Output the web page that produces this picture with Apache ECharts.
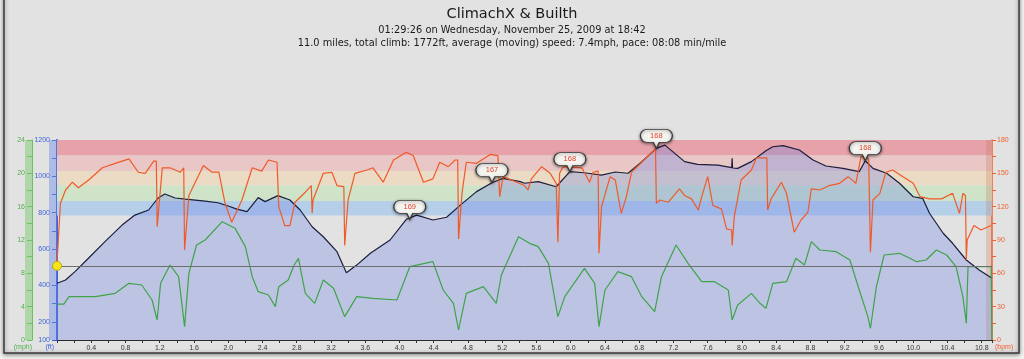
<!DOCTYPE html>
<html>
<head>
<meta charset="utf-8">
<script src="https://cdn.jsdelivr.net/npm/echarts@6/dist/echarts.min.js"></script>
<style>
html,body{margin:0;padding:0;background:#f2f2f2;}
#chart{width:1024px;height:359px;}
</style>
</head>
<body>
<div id="chart"></div>
<script>
// ---- data ----
const titleText = 'ClimachX & Builth';
const subLine1 = '01:29:26 on Wednesday, November 25, 2009 at 18:42';
const subLine2 = '11.0 miles, total climb: 1772ft, average (moving) speed: 7.4mph, pace: 08:08 min/mile';

const elevMiles = [0,0.10,0.21,0.37,0.56,0.76,0.91,1.07,1.18,1.26,1.38,1.50,1.73,1.88,2.00,2.10,2.22,2.35,2.43,2.58,2.72,2.84,2.98,3.11,3.27,3.38,3.50,3.66,3.89,4.08,4.20,4.39,4.55,4.71,4.90,5.08,5.21,5.41,5.46,5.62,5.83,5.99,6.16,6.36,6.52,6.67,6.83,7.00,7.10,7.33,7.48,7.72,7.88,7.885,7.89,7.95,8.11,8.28,8.36,8.48,8.67,8.83,8.98,9.18,9.37,9.44,9.53,9.69,9.84,10.00,10.11,10.19,10.35,10.46,10.62,10.77,10.92];
const elevFt = [412,430,476,551,641,732,787,815,881,903,881,875,864,855,837,820,806,883,861,894,870,815,723,668,586,470,512,577,650,764,787,760,775,842,916,965,989,971,962,971,943,1026,1020,1007,1024,1017,1081,1154,1172,1081,1066,1062,1048,1100,1046,1044,1081,1141,1163,1169,1145,1090,1057,1044,1026,1086,1044,1017,962,888,879,797,687,632,540,485,439];

const hrMiles = [0,0.04,0.10,0.18,0.25,0.37,0.53,0.68,0.84,0.95,1.03,1.13,1.16,1.17,1.23,1.32,1.44,1.48,1.49,1.54,1.71,1.81,1.89,1.96,2.04,2.16,2.28,2.39,2.47,2.57,2.59,2.66,2.72,2.78,2.90,2.97,2.98,2.99,3.11,3.21,3.27,3.35,3.36,3.40,3.48,3.62,3.69,3.81,3.93,4.08,4.16,4.28,4.39,4.47,4.57,4.65,4.68,4.69,4.73,4.78,4.90,5.06,5.15,5.17,5.21,5.37,5.46,5.50,5.54,5.66,5.76,5.83,5.85,5.87,5.91,6.13,6.22,6.26,6.32,6.33,6.36,6.46,6.52,6.59,6.65,6.71,6.83,6.99,7.00,7.04,7.14,7.27,7.33,7.41,7.49,7.53,7.60,7.66,7.76,7.82,7.88,7.885,7.91,7.99,8.11,8.17,8.29,8.30,8.34,8.46,8.52,8.61,8.69,8.77,8.81,8.91,9.02,9.14,9.24,9.33,9.39,9.48,9.50,9.53,9.61,9.68,9.76,9.88,10.00,10.08,10.19,10.33,10.46,10.54,10.58,10.61,10.62,10.63,10.71,10.79,10.91];
const hrBpm = [69,123,135,142,137,144,155,159,163,151,150,161,161,102,155,155,151,155,81,130,157,151,151,124,106,126,155,152,162,160,120,103,103,124,133,139,114,126,150,151,139,138,85,126,150,153,155,142,162,169,166,142,145,160,156,162,162,91,132,160,159,167,166,129,147,142,139,135,145,156,150,141,88,150,156,155,142,151,152,78,120,147,144,114,129,151,160,172,123,126,124,136,130,127,117,129,147,121,118,100,99,85,111,144,153,164,164,117,127,142,132,97,108,115,136,135,139,141,147,141,165,163,79,126,132,151,153,147,141,129,127,127,132,114,132,130,72,90,103,99,103];

const speedMiles = [0,0.08,0.14,0.45,0.68,0.84,0.99,1.11,1.17,1.21,1.32,1.42,1.49,1.54,1.63,1.73,1.93,2.08,2.20,2.28,2.35,2.47,2.55,2.59,2.70,2.77,2.82,2.90,3.01,3.11,3.23,3.36,3.50,3.69,3.97,4.12,4.39,4.51,4.63,4.69,4.78,4.98,5.13,5.19,5.39,5.52,5.62,5.74,5.85,5.93,6.16,6.28,6.33,6.40,6.55,6.71,6.83,6.98,7.06,7.23,7.37,7.53,7.68,7.84,7.885,7.95,8.11,8.21,8.28,8.36,8.52,8.63,8.73,8.81,8.91,9.10,9.26,9.37,9.47,9.50,9.57,9.66,9.84,9.96,10.04,10.15,10.27,10.39,10.50,10.58,10.62,10.64,10.91,10.92];
const speedMph = [4.3,4.3,5.2,5.2,5.6,6.8,6.6,4.8,2.4,6.8,9.0,7.6,1.6,8.0,11.4,12.0,14.2,13.4,11.2,7.6,5.8,5.4,4.0,6.4,7.2,9.0,9.8,5.6,4.4,7.2,6.2,2.8,5.2,5.0,4.8,8.8,9.4,6.0,4.4,1.2,5.6,6.4,4.4,7.8,12.4,11.6,11.2,9.2,2.8,5.2,8.6,6.8,1.6,6.0,8.2,7.6,5.2,3.4,7.6,11.4,9.2,7.0,7.0,6.0,2.4,4.2,5.6,4.4,3.8,6.8,7.0,9.8,9.0,11.8,10.8,10.6,9.6,6.0,2.8,1.4,6.4,10.2,10.4,9.8,9.4,9.6,10.8,10.2,8.8,5.2,2.0,8.8,8.8,0];

// heart-rate zones (bpm) and their colours
const zoneLow  = [166,152,139,125,112];
const zoneHigh = [180,166,152,139,125];
const zoneColors = ['#e6a1a9','#e8c7c6','#ebdac4','#cee3c7','#b5cfe9'];

// callout markers on the elevation profile
const markerMiles = [4.12,5.08,5.99,7.00,9.44];
const markerElev  = [764,965,1026,1154,1086];
const markerText  = ['169','167','168','168','168'];

// cursor line
const cursorMph = 8.9;

// axis ranges
const xMax = 10.92;
const elevMin = 100, elevMax = 1200;
const speedMax = 24;
const hrMax = 180;

const zip = (a,b) => a.map((v,i)=>[v,b[i]]);

const FONT = 'Liberation Sans';
const chart = echarts.init(document.getElementById('chart'), null, {renderer:'canvas'});

const bubblePath = 'path://M6.5,0 L25.5,0 A6.5,6.5 0 0 1 25.5,13 L19,13 L16,19 L13,13 L6.5,13 A6.5,6.5 0 0 1 6.5,0 Z';

const option = {
  animation: false,
  backgroundColor: '#f2f2f2',
  title: {
    text: titleText,
    subtext: subLine1 + '\n' + subLine2,
    left: 'center',
    top: 2,
    itemGap: 2,
    textStyle: {fontFamily:'DejaVu Sans', fontSize:14.5, fontWeight:'normal', color:'#1a1a1a'},
    subtextStyle: {fontFamily:'DejaVu Sans', fontSize:9.8, color:'#1a1a1a', lineHeight:13}
  },
  graphic: [
    {type:'rect', z:-10, shape:{x:4,y:-10,width:1015,height:363},
     style:{fill:'#e2e2e2', stroke:'#3a3a3a', lineWidth:1.5, shadowBlur:4, shadowColor:'rgba(0,0,0,0.45)', shadowOffsetY:1}},
    {type:'rect', z:1, shape:{x:25,y:140,width:7,height:200}, style:{fill:'rgba(110,200,100,0.45)'}},
    {type:'rect', z:1, shape:{x:49,y:140,width:8,height:200}, style:{fill:'rgba(110,140,230,0.45)'}}
  ],
  grid: {left:57, right:32, top:140, bottom:19, containLabel:false},
  xAxis: {
    type:'value', min:0, max:xMax, interval:0.2,
    axisLine:{lineStyle:{color:'#2a2a2a', width:1}},
    axisTick:{length:3, lineStyle:{color:'#333'}},
    splitLine:{show:false},
    axisLabel:{
      fontFamily:FONT, fontSize:7, color:'#333', margin:5, interval:0,
      formatter: v => { const t = Math.round(v*10); return (t>0 && t%4===0 && Math.abs(v*10-t)<1e-6) ? (t/10).toFixed(1) : ''; }
    }
  },
  yAxis: [
    { // elevation
      type:'value', position:'left', offset:0, min:elevMin, max:elevMax, interval:100,
      axisLine:{show:true, lineStyle:{color:'#3d62d8', width:2}},
      axisTick:{show:true, length:5, lineStyle:{color:'#3d62d8'}},
      splitLine:{show:false},
      axisLabel:{fontFamily:FONT, fontSize:7, color:'#3d62d8', margin:7,
        formatter: v => (v===100 || v%200===0) ? String(v) : ''},
      name:'(ft)', nameLocation:'start', nameGap:4,
      nameTextStyle:{fontFamily:FONT, fontSize:7, color:'#3d62d8', align:'right', verticalAlign:'top', padding:[0,3,0,0]}
    },
    { // speed
      type:'value', position:'left', offset:25, min:0, max:speedMax, interval:2,
      axisLine:{show:true, lineStyle:{color:'#6cc060', width:1}},
      axisTick:{show:true, length:5, lineStyle:{color:'#6cc060'}},
      splitLine:{show:false},
      axisLabel:{fontFamily:FONT, fontSize:7, color:'#4fae48', margin:7,
        formatter: v => (v%4===0) ? String(v) : ''},
      name:'(mph)', nameLocation:'start', nameGap:4,
      nameTextStyle:{fontFamily:FONT, fontSize:7, color:'#4fae48', align:'right', verticalAlign:'top', padding:[0,0,0,0]}
    },
    { // heart rate
      type:'value', position:'right', offset:0, min:0, max:hrMax, interval:15,
      axisLine:{show:true, lineStyle:{color:'#f0602e', width:1.5}},
      axisTick:{show:true, length:4, lineStyle:{color:'#f0602e'}},
      splitLine:{show:false},
      axisLabel:{fontFamily:FONT, fontSize:7, color:'#f0602e', margin:5,
        formatter: v => (v%30===0) ? String(v) : ''},
      name:'(bpm)', nameLocation:'start', nameGap:4,
      nameTextStyle:{fontFamily:FONT, fontSize:7, color:'#f0602e', align:'left', verticalAlign:'top', padding:[-5,0,0,3]}
    }
  ],
  series: [
    { // zone bands
      type:'line', yAxisIndex:2, data:[], z:1, silent:true,
      markArea:{
        silent:true,
        data: zoneLow.map((lo,i)=>[
          {yAxis:lo, itemStyle:{color:zoneColors[i]}},
          {yAxis:zoneHigh[i]}
        ]).concat([[
          {xAxis:10.85, yAxis:0, itemStyle:{color:'rgba(200,110,70,0.25)'}},
          {xAxis:xMax, yAxis:hrMax}
        ]])
      }
    },
    { // elevation
      name:'Elevation', type:'line', yAxisIndex:0, z:2, symbol:'none', smooth:false,
      data: zip(elevMiles, elevFt),
      lineStyle:{color:'#1b1d3a', width:1.2},
      areaStyle:{color:'rgba(110,132,230,0.45)', origin:'start'},
      markPoint:{
        silent:true,
        symbol: bubblePath,
        symbolSize:[32,19],
        symbolOffset:[0,-9.5],
        itemStyle:{color:'#f3f3ef', borderColor:'#3a3a3a', borderWidth:1,
          shadowBlur:3, shadowColor:'rgba(0,0,0,0.5)', shadowOffsetY:1},
        label:{show:true, position:'inside', offset:[0,-3], color:'#e5452a',
          fontFamily:FONT, fontSize:7.5,
          formatter: p => p.name},
        data: markerMiles.map((m,i)=>({name:markerText[i], coord:[m, markerElev[i]]}))
      }
    },
    { // heart rate
      name:'Heart rate', type:'line', yAxisIndex:2, z:3, symbol:'none',
      data: zip(hrMiles, hrBpm),
      lineStyle:{color:'#f05a28', width:1.2}
    },
    { // speed
      name:'Speed', type:'line', yAxisIndex:1, z:3, symbol:'none',
      data: zip(speedMiles, speedMph),
      lineStyle:{color:'#3fa34a', width:1.2},
      markLine:{
        silent:true, symbol:'none', label:{show:false},
        lineStyle:{color:'#6e6e6e', width:1, type:'solid'},
        data:[{yAxis:cursorMph}]
      },
      markPoint:{
        silent:true, symbol:'circle', symbolSize:9,
        itemStyle:{color:'#f5e61a', borderColor:'#c9a800', borderWidth:1},
        label:{show:false},
        data:[{coord:[0, cursorMph]}]
      }
    }
  ]
};
chart.setOption(option);
</script>
</body>
</html>
